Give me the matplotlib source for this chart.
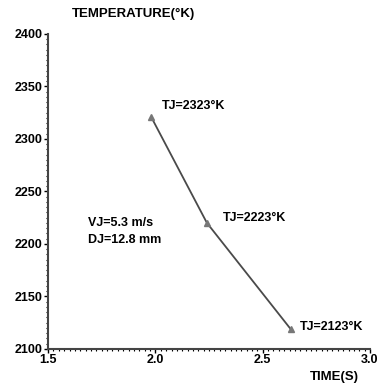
import matplotlib.pyplot as plt
from matplotlib.ticker import MultipleLocator

# data
time_s = [1.98, 2.24, 2.63]
temp_k = [2321, 2220, 2119]
point_labels = ["TJ=2323°K", "TJ=2223°K", "TJ=2123°K"]
x_ticks = [1.5, 2.0, 2.5, 3.0]
y_ticks = [2100, 2150, 2200, 2250, 2300, 2350, 2400]

plt.rcParams['font.family'] = ['Liberation Sans', 'DejaVu Sans']
plt.rcParams['font.weight'] = 'bold'

fig = plt.figure(figsize=(3.85, 3.89), dpi=100)
ax = fig.add_axes([0.125, 0.103, 0.836, 0.810])

ax.plot(time_s, temp_k, color='#4a4a4a', lw=1.3, marker='^', ms=4,
        mfc='#777777', mec='#777777')

label_pos = [(2.03, 2331), (2.315, 2225), (2.674, 2121)]
for (lx, ly), lab in zip(label_pos, point_labels):
    ax.text(lx, ly, lab, fontsize=9, fontweight='bold', va='center')

ax.text(1.686, 2220, "VJ=5.3 m/s", fontsize=9, fontweight='bold', va='center')
ax.text(1.686, 2204, "DJ=12.8 mm", fontsize=9, fontweight='bold', va='center')

ax.set_xlim(1.5, 3.0)
ax.set_ylim(2100, 2400)
ax.set_xticks(x_ticks)
ax.set_yticks(y_ticks)
ax.set_xticklabels([f"{v:.1f}" for v in x_ticks])
ax.xaxis.set_minor_locator(MultipleLocator(0.025))
ax.yaxis.set_minor_locator(MultipleLocator(5))
ax.tick_params(which='major', length=3, width=1, labelsize=9, pad=1)
ax.tick_params(which='minor', length=1.5, width=0.8)
for t in ax.get_xticklabels() + ax.get_yticklabels():
    t.set_fontweight('bold')

for s in ('top', 'right'):
    ax.spines[s].set_visible(False)
for s in ('left', 'bottom'):
    ax.spines[s].set_color('#444444')
    ax.spines[s].set_linewidth(1.5)

fig.text(0.187, 0.964, "TEMPERATURE(°K)", fontsize=9.5, fontweight='bold', va='center')
fig.text(0.805, 0.031, "TIME(S)", fontsize=9.5, fontweight='bold', va='center')

fig.savefig('out.png', dpi=100)
